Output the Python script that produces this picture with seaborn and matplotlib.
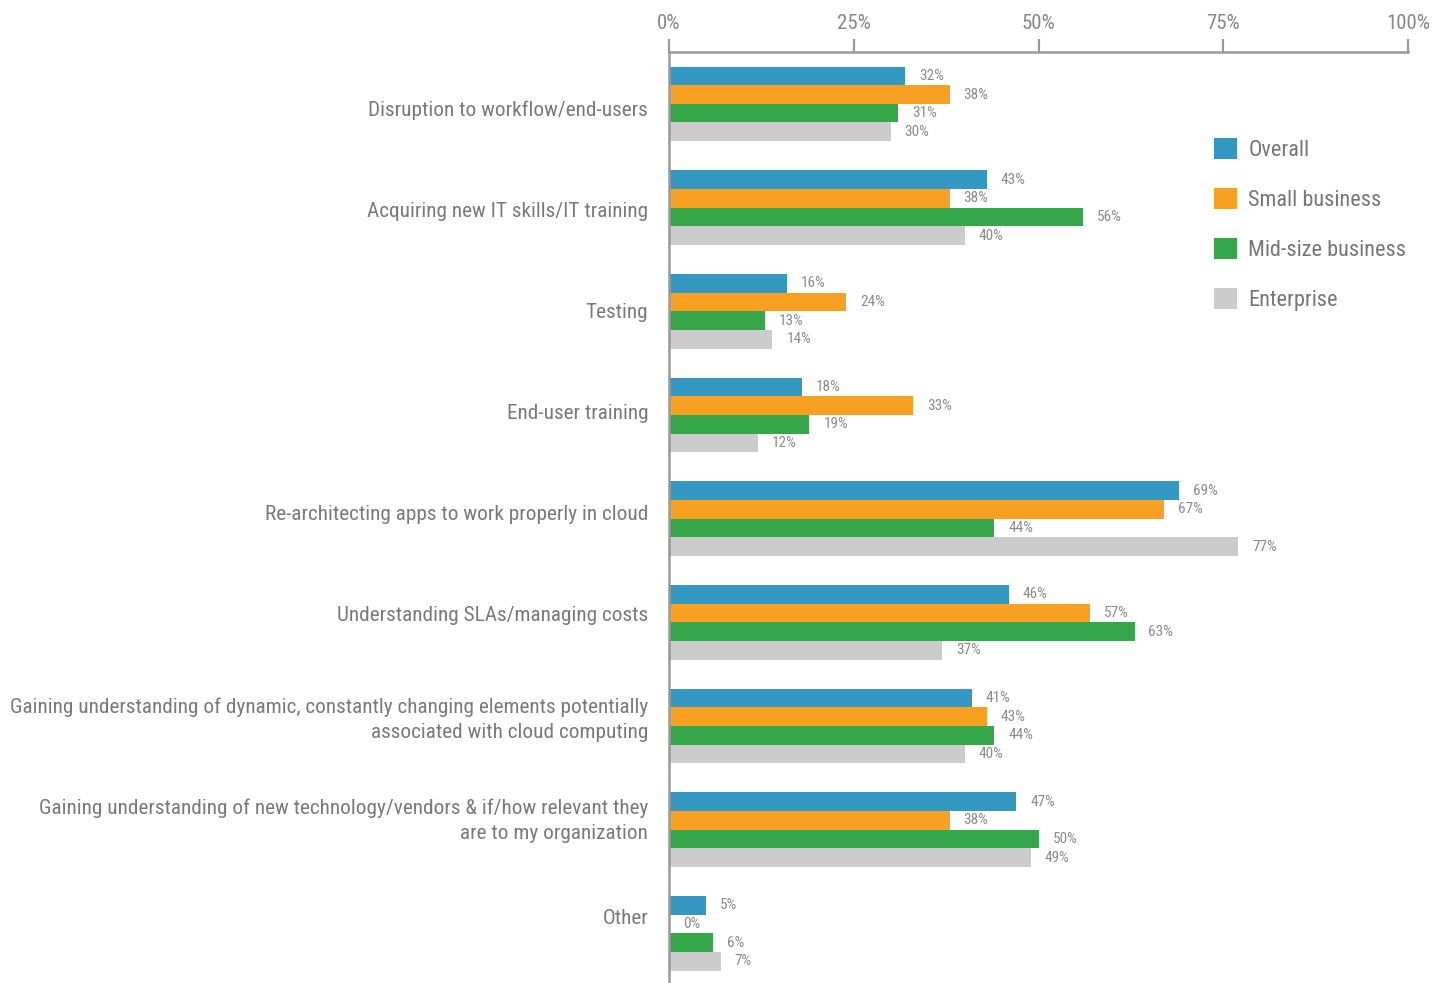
import numpy as np
import pandas as pd
import matplotlib.pyplot as plt
import seaborn as sns
from matplotlib.patches import Patch
from matplotlib import font_manager

sns.set_style("white")

# pick a narrow face if one is around
narrow = "DejaVu Sans"
for fam in ["Liberation Sans Narrow", "Roboto Condensed", "DejaVu Sans Condensed"]:
    try:
        font_manager.findfont(fam, fallback_to_default=False)
        narrow = fam
        break
    except Exception:
        pass
plt.rcParams["font.family"] = [narrow, "DejaVu Sans"]

# dados
challenges = [
    "Disruption to workflow/end-users",
    "Acquiring new IT skills/IT training",
    "Testing",
    "End-user training",
    "Re-architecting apps to work properly in cloud",
    "Understanding SLAs/managing costs",
    "Gaining understanding of dynamic, constantly changing elements potentially\nassociated with cloud computing",
    "Gaining understanding of new technology/vendors & if/how relevant they\nare to my organization",
    "Other",
]
segments = ["Overall", "Small business", "Mid-size business", "Enterprise"]
overall = [32, 43, 16, 18, 69, 46, 41, 47, 5]
small_biz = [38, 38, 24, 33, 67, 57, 43, 38, 0]
midsize_biz = [31, 56, 13, 19, 44, 63, 44, 50, 6]
enterprise = [30, 40, 14, 12, 77, 37, 40, 49, 7]
colors = ["#3399c2", "#f7a021", "#36a64a", "#cccccc"]

df = pd.DataFrame({
    "challenge": challenges * 4,
    "segment": np.repeat(segments, len(challenges)),
    "pct": overall + small_biz + midsize_biz + enterprise,
})

line_c = "#999999"
fig = plt.figure(figsize=(14.43, 9.83), dpi=100)
ax = fig.add_axes([669 / 1443, 0, (1408 - 669) / 1443, 1 - 52 / 983])

sns.barplot(data=df, y="challenge", x="pct", hue="segment", order=challenges,
            hue_order=segments, palette=colors, saturation=1, width=0.72,
            orient="h", errorbar=None, linewidth=0, legend=False, ax=ax)

# rotulos de valor
for cont in ax.containers:
    ax.bar_label(cont, labels=[f"{v:.0f}%" for v in cont.datavalues],
                 padding=10, fontsize=11, color="#8c8c8c")

ax.set_xlim(0, 100)
ax.set_ylim(8.48, -0.5)
ax.set_xlabel("")
ax.set_ylabel("")

ax.xaxis.tick_top()
ax.set_xticks([0, 25, 50, 75, 100])
ax.set_xticklabels(["0%", "25%", "50%", "75%", "100%"])
ax.tick_params(axis="x", direction="out", length=9.5, width=1.6, color=line_c,
               pad=4, labelsize=15, labelcolor="#888888")

# no original os rotulos sobem um pouco a cada grupo
ax.set_yticks(0.04 + np.arange(len(challenges)) * 0.975)
ax.set_yticklabels(challenges, fontsize=15.3, color="#7a7a7a", linespacing=1.4)
ax.set_yticks(np.arange(-0.5, len(challenges) - 0.5, 1), minor=True)
ax.tick_params(axis="y", which="major", length=0, pad=15)
ax.tick_params(axis="y", which="minor", direction="out", length=10,
               width=1.6, color=line_c)

for s in ["right", "bottom"]:
    ax.spines[s].set_visible(False)
for s in ["top", "left"]:
    ax.spines[s].set_color(line_c)
    ax.spines[s].set_linewidth(1.8)
ax.grid(False)

handles = [Patch(facecolor=c, edgecolor="none", label=l) for c, l in zip(colors, segments)]
fig.legend(handles=handles, loc="upper left", bbox_to_anchor=(1194 / 1443, 1 - 118 / 983),
           frameon=False, fontsize=16, labelcolor="#777777", handlelength=1.05,
           handleheight=1.05, handletextpad=0.5, labelspacing=1.22)

fig.savefig("out.png", dpi=100)
